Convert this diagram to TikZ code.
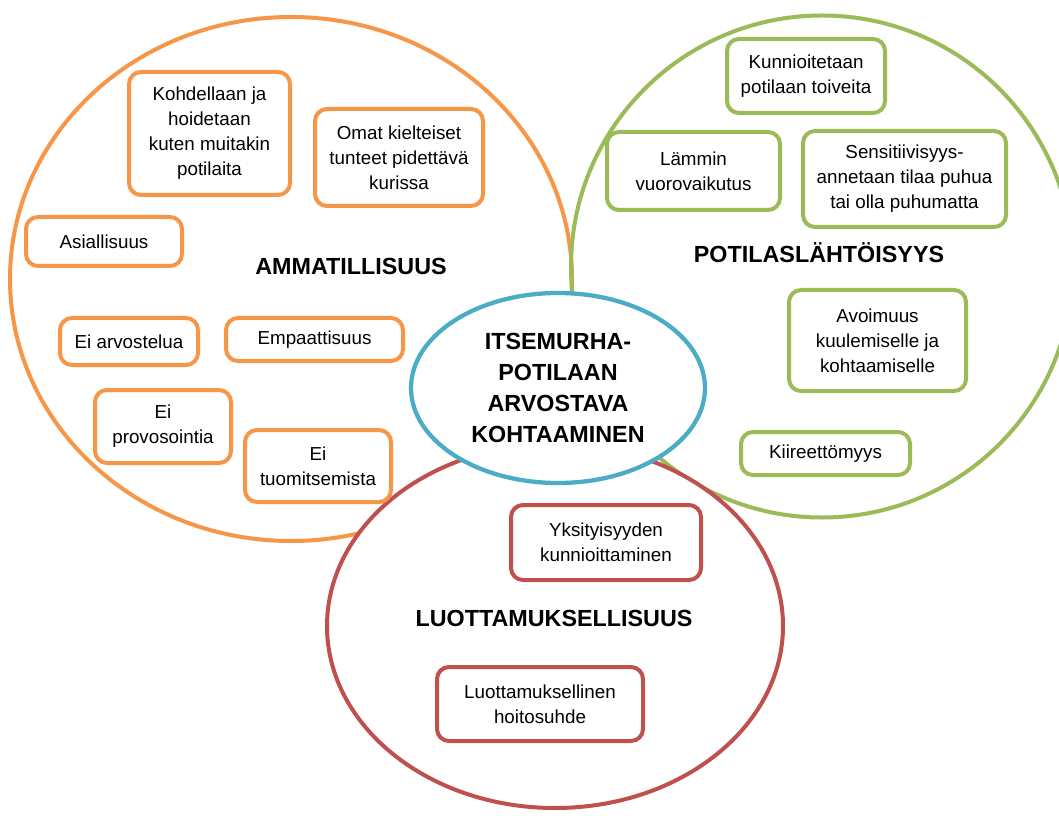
\documentclass[tikz,border=0pt]{standalone}
\usepackage{fontspec}
\setmainfont{Liberation Sans}
\usetikzlibrary{shapes.geometric}

\definecolor{ammOrange}{RGB}{247,150,70}
\definecolor{potGreen}{RGB}{155,187,89}
\definecolor{luoRed}{RGB}{192,80,77}
\definecolor{coreBlue}{RGB}{75,172,198}

\tikzset{
  area/.style={line width=3pt},
  item/.style={rectangle, rounded corners=9pt, line width=3pt, fill=white,
    align=center, inner sep=0pt, text=black,
    font=\fontsize{14.1}{18.75}\selectfont},
  size/.style 2 args={minimum width=#1*0.75pt, minimum height=#2*0.75pt},
  oitem/.style={item, draw=ammOrange},
  gitem/.style={item, draw=potGreen},
  ritem/.style={item, draw=luoRed},
  heading/.style={align=center, inner sep=0pt, text=black,
    font=\fontsize{17.5}{23.25}\selectfont\bfseries},
}

\begin{document}
\begin{tikzpicture}[x=0.75pt, y=-0.75pt]
\useasboundingbox (0,0) rectangle (1059,816);
\clip (0,0) rectangle (1059,816);
\fill[white] (0,0) rectangle (1059,816);

% the three overlapping areas
\draw[area, draw=ammOrange] (291,279) ellipse [x radius=281, y radius=262];
\draw[area, draw=potGreen] (822,266.5) circle [radius=251];
\draw[area, draw=luoRed, fill=white] (555,626) ellipse [x radius=228, y radius=182];

% core in the middle
\node[ellipse, draw=coreBlue, line width=3.2pt, fill=white, inner sep=0pt,
      minimum width=294*0.75pt, minimum height=190*0.75pt,
      heading] (core) at (558,388)
  {ITSEMURHA-\\POTILAAN\\ARVOSTAVA\\KOHTAAMINEN};

% area headings
\node[heading] (tAmm) at (351,266) {AMMATILLISUUS};
\node[heading] (tPot) at (819,253) {POTILASLÄHTÖISYYS};
\node[heading] (tLuo) at (554,618) {LUOTTAMUKSELLISUUS};

% professionalism
\node[oitem, size={161}{123}] (o1) at (209.5,133.5) {Kohdellaan ja\\hoidetaan\\kuten muitakin\\potilaita};
\node[oitem, size={168}{97}] (o2) at (399,157.5) {Omat kielteiset\\tunteet pidettävä\\kurissa};
\node[oitem, size={156}{49}] (o3) at (104,241.5) {Asiallisuus};
\node[oitem, size={138}{47}] (o4) at (129,341.5) {Ei arvostelua};
\node[oitem, size={177}{43}] (o5) at (314.5,339.5) {Empaattisuus};
\node[oitem, size={136}{73}] (o6) at (163,426.5) {Ei\\provosointia};
\node[oitem, size={146}{72}] (o7) at (318,466) {Ei\\tuomitsemista};

% patient orientation
\node[gitem, size={158}{74}] (g1) at (806,76) {Kunnioitetaan\\potilaan toiveita};
\node[gitem, size={173}{78}] (g2) at (693.5,171) {Lämmin\\vuorovaikutus};
\node[gitem, size={203}{96}] (g3) at (904.5,179) {Sensitiivisyys-\\annetaan tilaa puhua\\tai olla puhumatta};
\node[gitem, size={177}{101}] (g4) at (877.5,340.5) {Avoimuus\\kuulemiselle ja\\kohtaamiselle};
\node[gitem, size={169}{43}] (g5) at (825.5,453.5) {Kiireettömyys};

% confidentiality
\node[ritem, size={190}{75}] (r1) at (606,542.5) {Yksityisyyden\\kunnioittaminen};
\node[ritem, size={206}{74}] (r2) at (540,704) {Luottamuksellinen\\hoitosuhde};
\end{tikzpicture}
\end{document}
